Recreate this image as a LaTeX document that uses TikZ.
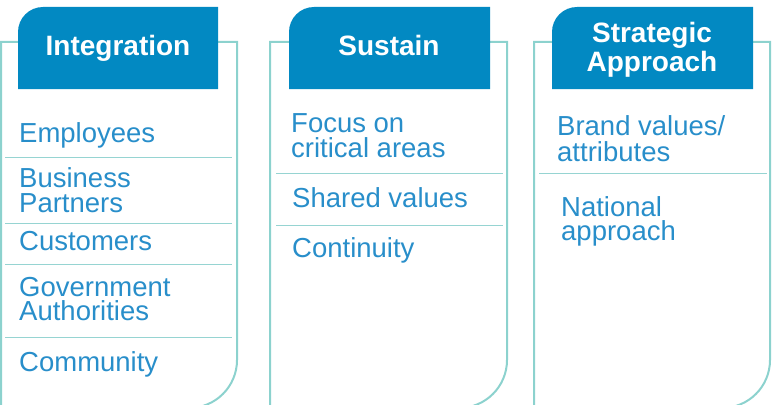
\documentclass[tikz,border=0pt]{standalone}
\usepackage{fontspec}
\setmainfont{Liberation Sans}
\definecolor{hdrblue}{RGB}{2,137,194}
\definecolor{txtblue}{RGB}{40,142,202}
\definecolor{teal}{RGB}{140,210,206}
\definecolor{septeal}{RGB}{150,212,210}
\tikzset{
  outline/.style={draw=teal, line width=2pt},
  hdr/.style={fill=hdrblue},
  hdrtext/.style={text=white, font=\fontsize{28}{27}\selectfont\bfseries, inner sep=0pt, align=center},
  item/.style={text=txtblue, font=\fontsize{27.5}{24.5}\selectfont, inner sep=0pt, anchor=base west, align=left},
  sep/.style={draw=septeal, line width=1pt}
}
\begin{document}
\begin{tikzpicture}[x=1pt,y=-1pt]
\useasboundingbox (0,0) rectangle (773,404);
\clip (0,0) rectangle (773,404);
% panel outlines
\draw[outline] (1,415) -- (1,42) -- (237,42) -- (237,360) arc[start angle=0, end angle=-90, radius=48pt] -- (1,408);
\draw[outline] (270,415) -- (270,42) -- (507,42) -- (507,360) arc[start angle=0, end angle=-90, radius=48pt] -- (270,408);
\draw[outline] (534,415) -- (534,42) -- (770,42) -- (770,360) arc[start angle=0, end angle=-90, radius=48pt] -- (534,408);
% headers
\fill[hdr] (218,89) -- (18,89) -- (18,32) arc[start angle=180, end angle=90, radius=25pt] -- (218,7) -- cycle;
\fill[hdr] (490,89) -- (289,89) -- (289,32) arc[start angle=180, end angle=90, radius=25pt] -- (490,7) -- cycle;
\fill[hdr] (753,89) -- (552,89) -- (552,32) arc[start angle=180, end angle=90, radius=25pt] -- (753,7) -- cycle;
\node[hdrtext, anchor=base] (h1) at (118,56) {Integration};
\node[hdrtext, anchor=base] (h2) at (389,56) {Sustain};
\node[hdrtext, anchor=base] (h3a) at (652,43) {Strategic};
\node[hdrtext, anchor=base] (h3b) at (652,71) {Approach};
% panel 1
\node[item] (p1a) at (19,142) {Employees};
\draw[sep] (5,157) -- (232,157);
\node[item] (p1b) at (19,187) {Business};
\node[item] (p1c) at (19,212) {Partners};
\draw[sep] (5,223) -- (232,223);
\node[item] (p1d) at (19,250) {Customers};
\draw[sep] (5,264) -- (232,264);
\node[item] (p1e) at (19,296) {Government};
\node[item] (p1f) at (19,320) {Authorities};
\draw[sep] (5,337) -- (232,337);
\node[item] (p1g) at (19,371) {Community};
% panel 2
\node[item] (p2a) at (291,132) {Focus on};
\node[item] (p2b) at (291,157) {critical areas};
\draw[sep] (276,173) -- (503,173);
\node[item] (p2c) at (292,207) {Shared values};
\draw[sep] (276,225) -- (503,225);
\node[item] (p2d) at (292,257) {Continuity};
% panel 3
\node[item] (p3a) at (557,135) {Brand values/};
\node[item] (p3b) at (557,161) {attributes};
\draw[sep] (539,173) -- (767,173);
\node[item] (p3c) at (561,216) {National};
\node[item] (p3d) at (561,240) {approach};
\end{tikzpicture}
\end{document}
